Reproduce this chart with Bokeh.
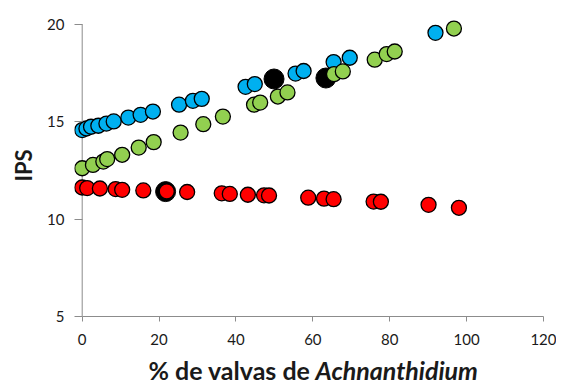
from bokeh.plotting import figure
from bokeh.layouts import column
from bokeh.models import Range1d, FixedTicker
from bokeh.core.properties import value
from bokeh.embed import file_html
from bokeh.resources import INLINE

# ---- data ----
blue_x = [0.0, 1.1, 2.3, 4.2, 6.3, 8.2, 12.0, 15.2, 18.4, 25.2, 28.8, 31.1,
          42.5, 44.9, 55.5, 57.6, 65.4, 69.6, 91.9]
blue_y = [14.57, 14.65, 14.74, 14.79, 14.90, 15.01, 15.21, 15.35, 15.52, 15.87,
          16.07, 16.17, 16.79, 16.93, 17.47, 17.60, 18.06, 18.28, 19.56]

green_x = [0.0, 2.8, 5.5, 6.5, 10.4, 14.7, 18.6, 25.6, 31.5, 36.6, 44.7, 46.3,
           50.9, 53.4, 65.5, 67.8, 76.1, 79.2, 81.3, 96.7]
green_y = [12.61, 12.78, 12.95, 13.08, 13.30, 13.67, 13.95, 14.44, 14.87, 15.26,
           15.87, 15.98, 16.29, 16.50, 17.44, 17.58, 18.18, 18.47, 18.60, 19.78]

red_x = [0.0, 1.3, 4.6, 8.7, 10.4, 15.9, 22.0, 27.3, 36.3, 38.4, 43.1, 47.3,
         48.6, 58.8, 62.9, 65.4, 75.8, 77.7, 90.1, 98.0]
red_y = [11.62, 11.59, 11.57, 11.54, 11.50, 11.47, 11.42, 11.39, 11.32, 11.29,
         11.25, 11.22, 11.21, 11.10, 11.05, 11.02, 10.90, 10.89, 10.73, 10.58]

black_x = [21.7, 49.9, 63.4]
black_y = [11.41, 17.19, 17.24]

x_ticks = [0, 20, 40, 60, 80, 100, 120]
y_ticks = [5, 10, 15, 20]

x_title_a = "% de valvas de"
x_title_b = "Achnanthidium"
y_title = "IPS"

FONT = "Lato"
AXIS_COL = "#8c8c8c"
TXT = "#1a1a1a"
W = 556

xr = Range1d(-2.0, 120)

p = figure(width=W, height=350, output_backend="svg", toolbar_location=None,
           x_range=xr, y_range=Range1d(5, 20.5),
           min_border_left=74, min_border_right=13, min_border_top=14,
           min_border_bottom=34)
p.outline_line_color = None
p.grid.visible = False
p.background_fill_color = "white"

for ax in (p.xaxis[0], p.yaxis[0]):
    ax.axis_line_color = AXIS_COL
    ax.major_tick_line_color = AXIS_COL
    ax.minor_tick_line_color = None
    ax.major_label_text_font = FONT
    ax.major_label_text_font_size = "15px"
    ax.major_label_text_color = TXT

xa = p.xaxis[0]
xa.ticker = FixedTicker(ticks=x_ticks)
xa.bounds = (x_ticks[0], x_ticks[-1])
xa.major_tick_in = 0
xa.major_tick_out = 5
xa.major_label_standoff = 12

ya = p.yaxis[0]
ya.ticker = FixedTicker(ticks=y_ticks)
ya.axis_line_color = None
ya.major_tick_in = 8
ya.major_tick_out = 0
ya.major_label_standoff = 10
ya.axis_label = y_title
ya.axis_label_text_font = FONT
ya.axis_label_text_font_style = "bold"
ya.axis_label_text_font_size = "22px"
ya.axis_label_text_color = TXT
ya.axis_label_standoff = 7

# vertical axis line at x = 0 (from the first to the last y tick)
p.segment(x0=[x_ticks[0]], y0=[y_ticks[0]], x1=[x_ticks[0]], y1=[y_ticks[-1]],
          line_color=AXIS_COL, line_width=1)

p.scatter(black_x, black_y, size=20, fill_color="black", line_color="black")
p.scatter(blue_x, blue_y, size=15, fill_color="#00B0F0", line_color="black", line_width=1.3)
p.scatter(green_x, green_y, size=15, fill_color="#92D050", line_color="black", line_width=1.3)
p.scatter(red_x, red_y, size=15, fill_color="#FF0000", line_color="black", line_width=1.3)

# x-axis title strip (bold + bold italic parts)
p2 = figure(width=W, height=35, output_backend="svg", toolbar_location=None,
            x_range=xr, y_range=Range1d(0, 1),
            x_axis_location=None, y_axis_location=None,
            min_border_left=74, min_border_right=13, min_border_top=0,
            min_border_bottom=0)
p2.grid.visible = False
p2.outline_line_color = None
p2.text(x=[59.4], y=[0.443], text=[x_title_a], text_align="right",
        text_baseline="alphabetic", text_font=value(FONT), text_font_style="bold",
        text_font_size="25px", text_color=TXT)
p2.text(x=[60.7], y=[0.443], text=[x_title_b], text_align="left",
        text_baseline="alphabetic", text_font=value(FONT),
        text_font_style="bold italic", text_font_size="25px", text_color=TXT)

layout = column(p, p2, spacing=0)
open("out.html", "w").write(file_html(layout, INLINE))
